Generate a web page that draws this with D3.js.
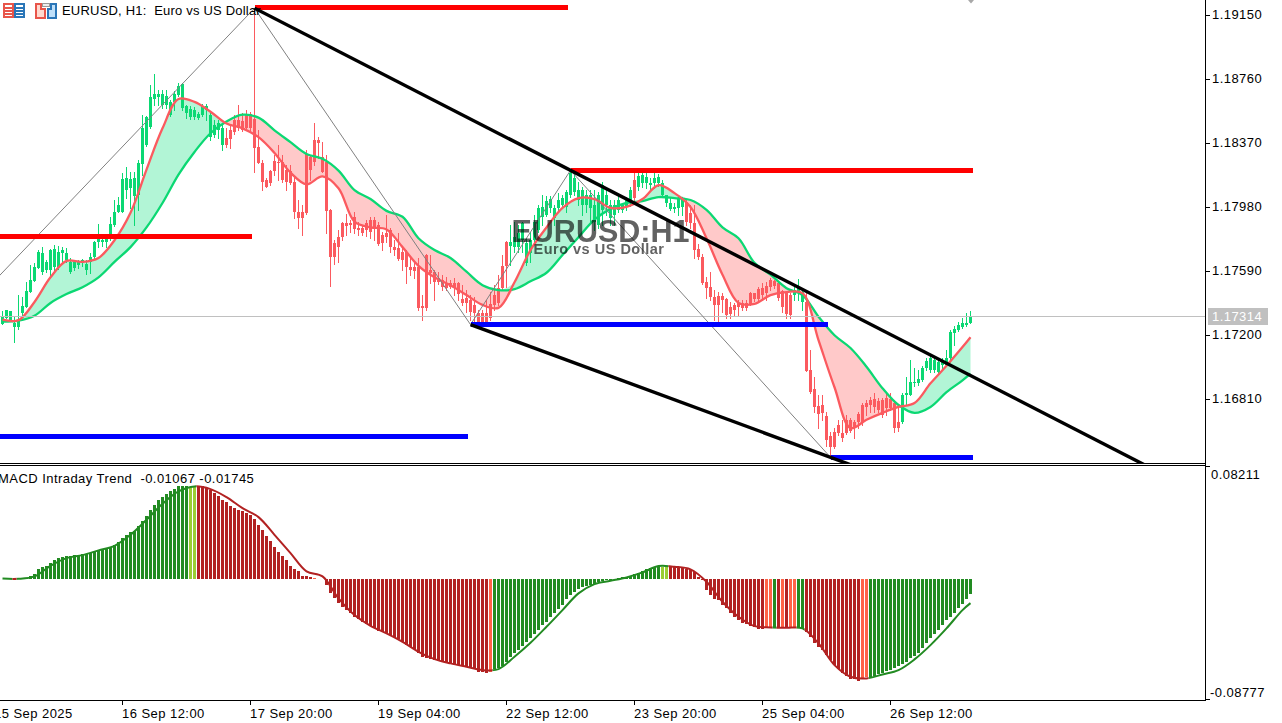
<!DOCTYPE html>
<html><head><meta charset="utf-8">
<script src="https://cdnjs.cloudflare.com/ajax/libs/d3/7.8.5/d3.min.js"></script>
<style>
html,body{margin:0;padding:0;background:#fff;overflow:hidden}
svg{display:block}
text{font-family:"Liberation Sans",sans-serif;fill:#000;white-space:pre}
</style></head><body><svg id="c" width="1282" height="723"></svg>
<script>
// ----- prices are in points (1/100000) -----
const candleHigh=[117347,117353,117347,117311,117443,117431,117521,117627,117639,117717,117735,117657,117723,117747,117741,117735,117729,117669,117657,117657,117663,117657,117699,117771,117878,117807,117813,117920,118022,118040,118189,118225,118195,118195,118267,118542,118536,118722,118790,118692,118692,118692,118632,118686,118734,118734,118602,118596,118590,118560,118608,118608,118554,118512,118512,118488,118459,118482,118542,118602,118554,118572,118560,119192,118447,118267,118154,118207,118297,118357,118297,118237,118237,118166,118022,117992,118327,118297,118494,118405,118375,118297,117968,117777,117837,117890,117938,117902,117950,117890,117872,117902,117920,117920,117890,117825,117932,117849,117777,117819,117729,117717,117669,117645,117669,117443,117693,117687,117597,117585,117563,117551,117533,117545,117521,117503,117473,117443,117431,117353,117353,117413,117461,117503,117563,117687,117771,117867,117890,117872,117890,117789,117825,117932,117992,118052,118046,118046,117992,118064,118052,118082,118207,118195,118130,118100,118082,118082,118082,118070,118130,118082,118022,118022,118052,118004,118040,118100,118195,118189,118195,118195,118154,118189,118183,118142,118052,118034,118004,118046,118040,118022,117992,117992,117753,117693,117551,117585,117473,117461,117455,117425,117401,117395,117413,117413,117413,117461,117455,117491,117515,117521,117545,117533,117521,117473,117461,117455,117503,117539,117473,117461,117108,116941,116833,116833,116731,116608,116632,116683,116683,116713,116695,116683,116731,116785,116803,116821,116845,116815,116815,116851,116845,116791,116773,116845,116941,117048,117000,116988,117012,117060,117072,117060,117048,117060,117108,117228,117252,117281,117305,117335,117347];
const candleBodyHigh=[117311,117353,117347,117275,117293,117377,117467,117533,117615,117705,117699,117645,117717,117723,117705,117717,117699,117645,117645,117645,117657,117633,117675,117765,117783,117777,117783,117878,117950,117992,118148,118154,118148,118154,118249,118459,118530,118650,118668,118668,118668,118656,118620,118668,118716,118728,118596,118578,118572,118548,118596,118596,118542,118482,118494,118459,118399,118447,118512,118512,118506,118542,118548,118518,118345,118249,118142,118201,118261,118255,118255,118207,118201,118130,117950,117950,118303,118285,118387,118387,118285,118255,117962,117759,117795,117884,117884,117884,117920,117849,117849,117884,117902,117902,117872,117807,117819,117837,117735,117729,117705,117705,117615,117615,117615,117377,117687,117597,117585,117545,117533,117515,117515,117515,117515,117419,117425,117413,117383,117335,117335,117335,117389,117443,117485,117621,117765,117765,117795,117819,117884,117759,117777,117890,117974,117980,118016,118028,117974,118022,118034,118070,118189,118154,118082,118082,118052,118052,117992,118052,118112,118052,117992,117992,118022,117992,118022,118082,118142,118166,118177,118160,118124,118154,118160,118124,118052,118004,117980,118034,118028,118010,117944,117884,117723,117675,117521,117491,117431,117437,117437,117419,117371,117383,117395,117395,117395,117455,117455,117479,117485,117497,117533,117527,117515,117467,117455,117443,117473,117485,117461,117401,116988,116869,116767,116773,116707,116584,116608,116653,116602,116683,116683,116671,116719,116773,116785,116803,116809,116797,116803,116815,116809,116785,116671,116833,116845,116911,116911,116929,117000,117042,117060,117048,117036,117048,117060,117216,117234,117258,117275,117275,117317];
const candleBodyLow=[117269,117305,117293,117246,117246,117335,117371,117461,117527,117609,117585,117597,117597,117615,117615,117699,117657,117585,117609,117627,117639,117597,117645,117675,117765,117765,117765,117789,117872,117950,117950,118082,118094,118046,118052,118243,118357,118465,118638,118650,118602,118602,118542,118620,118662,118584,118554,118530,118530,118524,118542,118572,118405,118417,118447,118357,118357,118393,118435,118459,118447,118459,118459,118339,118249,118130,118100,118124,118201,118249,118142,118130,118124,117950,117914,117914,117944,118207,118255,118369,118195,117956,117675,117675,117735,117795,117861,117872,117843,117837,117819,117837,117825,117855,117753,117759,117795,117735,117717,117663,117657,117615,117597,117591,117365,117365,117365,117579,117521,117521,117491,117485,117491,117485,117449,117395,117395,117341,117335,117281,117281,117281,117305,117383,117395,117485,117621,117741,117735,117735,117777,117639,117699,117777,117837,117920,117932,117974,117914,117974,117992,117980,118052,118070,118022,117992,117992,117974,117890,117872,117962,117992,117914,117932,117962,117962,117980,118004,118034,118100,118124,118124,118112,118124,118124,118052,118004,117968,117968,117974,117980,117890,117884,117717,117675,117515,117485,117431,117383,117383,117413,117323,117329,117353,117371,117365,117365,117389,117419,117419,117443,117455,117491,117497,117425,117371,117329,117323,117443,117455,117401,116982,116851,116761,116719,116725,116560,116518,116518,116602,116572,116602,116614,116632,116671,116671,116761,116773,116761,116743,116713,116755,116755,116632,116632,116671,116833,116833,116905,116905,116923,117000,116988,116988,116976,117018,117018,117060,117210,117228,117246,117258,117275];
const candleLow=[117269,117305,117293,117156,117234,117311,117371,117461,117527,117609,117573,117585,117567,117585,117603,117645,117645,117579,117597,117609,117621,117573,117579,117669,117735,117741,117735,117777,117861,117950,117950,118034,117974,117872,117962,118177,118351,118459,118602,118602,118584,118584,118536,118572,118656,118572,118524,118518,118518,118518,118536,118512,118387,118405,118399,118327,118345,118339,118423,118447,118441,118453,118447,118195,118249,118082,118100,118112,118177,118142,118130,118082,118118,117914,117849,117807,117938,118142,118237,118279,118195,117819,117497,117633,117645,117777,117807,117825,117819,117807,117807,117801,117789,117777,117747,117717,117765,117705,117687,117657,117597,117515,117567,117545,117353,117293,117353,117515,117413,117509,117473,117473,117485,117443,117413,117383,117341,117293,117281,117281,117281,117281,117293,117353,117383,117473,117491,117627,117705,117705,117705,117627,117645,117759,117825,117872,117926,117950,117872,117962,117974,117950,118040,118052,117992,117932,117950,117890,117837,117849,117872,117932,117872,117872,117950,117950,117962,117986,118004,118082,118100,118094,118082,118094,118106,118046,117986,117962,117950,117932,117932,117872,117849,117669,117663,117509,117425,117413,117293,117281,117341,117305,117305,117317,117323,117353,117353,117383,117407,117413,117413,117413,117473,117485,117413,117341,117305,117305,117413,117413,117353,116982,116845,116731,116632,116683,116524,116458,116512,116590,116554,116596,116608,116572,116632,116653,116713,116731,116731,116731,116701,116713,116743,116608,116614,116665,116773,116833,116887,116893,116917,116988,116976,116976,116964,117000,117012,117036,117138,117222,117240,117252,117275];
const candleRunEnd=[55,126,157,158,170,197,200,224,242];
const candleRunTrend=["up","down","up","down","up","down","up","down","up"];

const maBars=[0,4,8,12,16,20,24,28,32,36,40,44,48,52,56,60,64,68,72,76,80,84,88,92,96,100,104,108,112,116,120,124,128,132,136,140,144,148,152,156,160,164,168,172,176,180,184,188,192,196,200,204,208,212,216,220,224,228,232,236,240,242];
const fastMA=[117293,117290,117401,117551,117651,117645,117669,117777,117944,118207,118459,118638,118620,118560,118488,118459,118405,118309,118189,118118,118166,118094,117890,117855,117843,117735,117621,117551,117503,117443,117383,117365,117521,117717,117855,117974,118034,118028,117974,117980,118028,118112,118064,117980,117789,117567,117395,117389,117443,117461,117455,117168,116881,116632,116683,116725,116761,116785,116905,117012,117126,117186];
const slowMA=[117281,117287,117317,117395,117449,117491,117551,117645,117735,117855,118004,118177,118315,118429,118500,118542,118524,118447,118375,118303,118273,118201,118082,118028,117956,117920,117789,117717,117669,117585,117503,117473,117479,117527,117579,117687,117795,117902,117968,118004,118016,118040,118034,118022,117962,117855,117789,117639,117567,117485,117443,117311,117198,117120,117006,116875,116773,116725,116761,116851,116923,116964];

const zigzagBars=[-10,63,117,142,207];
const zigzagPrices=[117325,119191,117263,118203,116454];
const levelStart=[-1,63,142,-1,117,207];
const levelEnd=[62.4,141.4,242.5,116.4,206.4,242.5];
const levelPrice=[117801,119195,118203,116584,117263,116454];
const levelKind=["r","r","r","b","b","b"];
const lastPrice=117314;

const macdHist=[40,40,50,-50,50,60,100,196,385,726,871,944,1162,1358,1503,1597,1670,1692,1742,1764,1793,1815,1888,1982,2084,2127,2229,2301,2468,2686,2955,3194,3390,3485,3826,4189,4552,4988,5394,5714,5953,6171,6367,6534,6730,6774,6774,6679,6730,6774,6730,6607,6483,6244,6004,5757,5568,5322,5155,5031,4915,4792,4625,4356,3942,3536,3144,2737,2323,1960,1648,1358,966,726,559,196,196,123,94,30,30,-436,-995,-1401,-1721,-2055,-2251,-2490,-2737,-2926,-3144,-3289,-3412,-3536,-3753,-3826,-3942,-4066,-4233,-4356,-4552,-4792,-4959,-5104,-5351,-5685,-5757,-5808,-5881,-5953,-6004,-6077,-6171,-6222,-6244,-6316,-6367,-6483,-6556,-6730,-6730,-6803,-6730,-6534,-6483,-6316,-6004,-5685,-5394,-5155,-4864,-4552,-4305,-3993,-3703,-3361,-3100,-2737,-2447,-2178,-1888,-1474,-1162,-922,-726,-603,-508,-436,-363,-196,-123,-73,-22,22,73,123,167,218,363,457,581,704,799,893,944,893,893,944,893,893,777,704,653,530,123,-22,-799,-1162,-1474,-1525,-1888,-2127,-2490,-2781,-2977,-3173,-3267,-3412,-3507,-3608,-3652,-3579,-3536,-3507,-3579,-3579,-3579,-3579,-3579,-3536,-3579,-3826,-4233,-4625,-4915,-5155,-5518,-5881,-6244,-6556,-6846,-7042,-7282,-7282,-7383,-7282,-7137,-7137,-7042,-6897,-6803,-6679,-6607,-6483,-6316,-6171,-6004,-5757,-5590,-5351,-5031,-4668,-4305,-4015,-3703,-3340,-2977,-2781,-2447,-2127,-1815,-1474,-1067];
const histRunEnd=[2,3,46,48,77,78,121,122,164,166,190,192,193,194,195,196,198,200,214,216,242];
const histRunColor=["g","r","g","l","r","t","r","t","g","l","r","t","g","r","t","r","t","g","r","t","g"];
const signalBars=[0,4,8,12,16,20,24,28,32,36,40,44,48,52,56,60,64,68,72,76,80,84,88,92,96,100,104,108,112,116,120,124,128,132,136,140,144,148,152,156,160,164,168,172,176,180,184,188,192,196,200,204,208,212,216,220,224,228,232,236,240,242];
const signalLine=[36,20,196,966,1525,1742,2084,2418,3216,4305,5467,6367,6730,6534,5953,5155,4501,3216,1888,559,196,-1401,-2614,-3390,-3942,-4552,-5278,-5808,-6120,-6367,-6607,-6534,-5640,-4625,-3463,-2251,-1038,-363,-123,123,486,944,893,704,-196,-1648,-2737,-3412,-3507,-3536,-3579,-4668,-6244,-7093,-7209,-6919,-6607,-5830,-4792,-3579,-2251,-1745];

const priceTicks=[1.1915,1.1876,1.1837,1.1798,1.1759,1.172,1.1681];
const timeTickBars=[-2,30,62,94,126,158,190,222];
const timeTickLabels=["15 Sep 2025","16 Sep 12:00","17 Sep 20:00","19 Sep 04:00","22 Sep 12:00","23 Sep 20:00","25 Sep 04:00","26 Sep 12:00"];
const macdTop=0.08211, macdBottom=-0.08777;
const chartTitle="EURUSD, H1:  Euro vs US Dollar";
const macdTitle="MACD Intraday Trend  -0.01067 -0.01745";
const watermark="EURUSD:H1", watermarkSub="Euro vs US Dollar";

// ----- styles -----
const UP="#0bd873",DOWN="#fb5a5f",UPFILL="#b2f5d6",DOWNFILL="#ffc9c9";
const HIST={g:"#228b22",l:"#9acd32",r:"#b22222",t:"#ff6347"};
const LEVEL={r:"#ff0000",b:"#0000ff"};
const P=v=>v/1e5;
const W=1205,H1=463,T2=466,B2=700;

const svg=d3.select("#c");
const x=d3.scaleLinear().domain([0,242]).range([2.5,970.5]);
const y=d3.scaleLinear().domain([1.19241,1.19241-463*0.00006094]).range([0,463]);
const yM=d3.scaleLinear().domain([macdTop,macdBottom]).range([T2,B2]);
const defs=svg.append("defs");
defs.append("clipPath").attr("id","pane1").append("rect").attr("width",W).attr("height",H1);
defs.append("clipPath").attr("id","pane2").append("rect").attr("y",T2).attr("width",W).attr("height",B2-T2);

const runFor=(i,ends)=>ends.findIndex(e=>i<=e);
const main=svg.append("g").attr("clip-path","url(#pane1)");
const ma=maBars.map((b,k)=>({b,f:P(fastMA[k]),s:P(slowMA[k])}));
const smooth=d3.curveCatmullRom.alpha(0.5);

// title + icons
const ic=svg.append("g").attr("shape-rendering","crispEdges");
[[3,"#e8554a","#fff"],[14,"#2a76b8","#fff"]].forEach(([x0,st,fl])=>{
  ic.append("rect").attr("x",x0+1).attr("y",4).attr("width",9).attr("height",13).attr("fill",fl).attr("stroke",st).attr("stroke-width",2);
  [7,10,13].forEach(v=>ic.append("rect").attr("x",x0+2).attr("y",v).attr("width",8).attr("height",1.5).attr("fill",st));
});
ic.append("path").attr("d","M36 4h5v5h4v9h-9z").attr("fill","#ffd9cf").attr("stroke","#e8554a").attr("stroke-width",2);
ic.append("path").attr("d","M48 9h3v-5h5v14h-8z").attr("fill","#bfe0fa").attr("stroke","#2a76b8").attr("stroke-width",2);
ic.append("rect").attr("x",42.5).attr("y",3.5).attr("width",7).attr("height",3).attr("fill","#eee").attr("stroke","#999");
svg.append("text").attr("x",62).attr("y",15).attr("font-size",13).attr("letter-spacing",.2).text(chartTitle);

// cloud
const cloud=(fn,col)=>main.append("path").datum(ma).attr("fill",col)
  .attr("d",d3.area().curve(smooth).x(d=>x(d.b)).y0(d=>y(d.s)).y1(d=>y(fn(d))));
cloud(d=>Math.max(d.f,d.s),UPFILL);
cloud(d=>Math.min(d.f,d.s),DOWNFILL);

// candles
const bars=d3.range(candleHigh.length);
const col=i=>candleRunTrend[runFor(i,candleRunEnd)]==="up"?UP:DOWN;
const cg=main.append("g").attr("shape-rendering","crispEdges");
cg.selectAll(".w").data(bars).join("rect").attr("x",i=>x(i)-.5).attr("width",1)
  .attr("y",i=>y(P(candleHigh[i]))).attr("height",i=>y(P(candleLow[i]))-y(P(candleHigh[i]))+1).attr("fill",col);
cg.selectAll(".b").data(bars).join("rect").attr("x",i=>x(i)-1.5).attr("width",3)
  .attr("y",i=>y(P(candleBodyHigh[i]))).attr("height",i=>Math.max(1,y(P(candleBodyLow[i]))-y(P(candleBodyHigh[i])))).attr("fill",col);

// MAs
const mline=(fn,c)=>main.append("path").datum(ma).attr("fill","none").attr("stroke",c).attr("stroke-width",2.3)
  .attr("stroke-linejoin","round").attr("d",d3.line().curve(smooth).x(d=>x(d.b)).y(d=>y(fn(d))));
mline(d=>d.s,UP); mline(d=>d.f,DOWN);

// last-price line
main.append("line").attr("x1",0).attr("x2",W).attr("y1",Math.round(y(P(lastPrice)))+.5).attr("y2",Math.round(y(P(lastPrice)))+.5)
  .attr("stroke","#c0c0c0").attr("shape-rendering","crispEdges");

// zigzag
main.append("path").datum(zigzagBars.map((b,k)=>[b,P(zigzagPrices[k])])).attr("fill","none").attr("stroke","#808080").attr("stroke-width",1)
  .attr("d",d3.line().x(d=>x(d[0])).y(d=>y(d[1])));

// watermark
const wm=main.append("g").style("mix-blend-mode","multiply");
wm.append("text").attr("x",511.5).attr("y",241.5).attr("font-size",30.5).attr("font-weight","bold").style("fill","#626262").text(watermark);
wm.append("text").attr("x",533.5).attr("y",254).attr("font-size",14.5).attr("font-weight","bold").attr("letter-spacing",.5).style("fill","#626262").text(watermarkSub);

// levels
main.selectAll(".lv").data(levelPrice).join("line").attr("shape-rendering","crispEdges")
  .attr("x1",(d,k)=>x(levelStart[k])).attr("x2",(d,k)=>x(levelEnd[k]))
  .attr("y1",d=>y(P(d))).attr("y2",d=>y(P(d))).attr("stroke",(d,k)=>LEVEL[levelKind[k]]).attr("stroke-width",5);

// trend channel: two pivots define each line, extended right
const tl=(a,b)=>{const s=(zigzagPrices[b]-zigzagPrices[a])/(zigzagBars[b]-zigzagBars[a]);
  const e=330;main.append("line").attr("x1",x(zigzagBars[a])).attr("y1",y(P(zigzagPrices[a])))
  .attr("x2",x(e)).attr("y2",y(P(zigzagPrices[a]+s*(e-zigzagBars[a])))).attr("stroke","#000").attr("stroke-width",3.4);};
tl(1,3); tl(2,4);

// MACD
const low=svg.append("g").attr("clip-path","url(#pane2)");
low.append("g").attr("shape-rendering","crispEdges").selectAll("rect").data(macdHist).join("rect")
  .attr("x",(d,i)=>x(i)-1.5).attr("width",3)
  .attr("y",d=>Math.min(yM(0),yM(P(d)))).attr("height",d=>Math.max(.6,Math.abs(yM(P(d))-yM(0))))
  .attr("fill",(d,i)=>HIST[histRunColor[runFor(i,histRunEnd)]]);
const sig=signalBars.map((b,k)=>[b,P(signalLine[k])]);
const sigPath=d3.line().curve(smooth).x(d=>x(d[0])).y(d=>yM(d[1]));
[["sg",["g","l"],"#228b22"],["sr",["r","t"],"#b22222"]].forEach(([id,keys,c])=>{
  const cp=defs.append("clipPath").attr("id",id);
  histRunEnd.forEach((e,k)=>{ if(keys.includes(histRunColor[k])){
    const s=k?histRunEnd[k-1]+1:0;
    cp.append("rect").attr("x",x(s)-2).attr("width",(e-s+1)*4).attr("y",T2).attr("height",B2-T2);
  }});
  low.append("g").attr("clip-path",`url(#${id})`).append("path").datum(sig).attr("fill","none").attr("stroke",c).attr("stroke-width",2).attr("d",sigPath);
});
svg.append("text").attr("x",-2).attr("y",483).attr("font-size",13).attr("letter-spacing",.45).text(macdTitle);

// frame
const fr=svg.append("g").attr("shape-rendering","crispEdges").attr("stroke","#000");
fr.append("line").attr("x1",0).attr("x2",W).attr("y1",463.5).attr("y2",463.5);
fr.append("line").attr("x1",0).attr("x2",W).attr("y1",465.5).attr("y2",465.5);
fr.append("line").attr("x1",0).attr("x2",W).attr("y1",700.5).attr("y2",700.5);
fr.append("line").attr("x1",W+.5).attr("x2",W+.5).attr("y1",0).attr("y2",701);
fr.append("line").attr("x1",W).attr("x2",W+5).attr("y1",466.5).attr("y2",466.5);
fr.append("line").attr("x1",W).attr("x2",W+5).attr("y1",699.5).attr("y2",699.5);

// price axis
priceTicks.forEach(p=>{
  fr.append("line").attr("x1",W).attr("x2",W+5).attr("y1",Math.round(y(p))+.5).attr("y2",Math.round(y(p))+.5);
  svg.append("text").attr("x",1212).attr("y",y(p)+4.5).attr("font-size",13).attr("letter-spacing",.45).text(p.toFixed(5));
});
svg.append("rect").attr("x",1208).attr("y",308).attr("width",60).attr("height",17).attr("fill","#c0c0c0");
svg.append("text").attr("x",1212).attr("y",321).attr("font-size",13).attr("letter-spacing",.45).style("fill","#fff").text(P(lastPrice).toFixed(5));
svg.append("text").attr("x",1211).attr("y",478.5).attr("font-size",13).attr("letter-spacing",.45).text(macdTop.toFixed(5));
svg.append("text").attr("x",1210).attr("y",697).attr("font-size",13).attr("letter-spacing",.45).text(macdBottom.toFixed(5));

// time axis
timeTickBars.forEach((b,k)=>{
  fr.append("line").attr("x1",Math.floor(x(b))+.5).attr("x2",Math.floor(x(b))+.5).attr("y1",700).attr("y2",705);
  svg.append("text").attr("x",x(b)-.5).attr("y",718).attr("font-size",13).attr("letter-spacing",.45).text(timeTickLabels[k]);
});
// small chart-shift marker
svg.append("path").attr("d","M968 0L971 3.5L974 0Z").attr("fill","#a8a8a8");
</script></body></html>
